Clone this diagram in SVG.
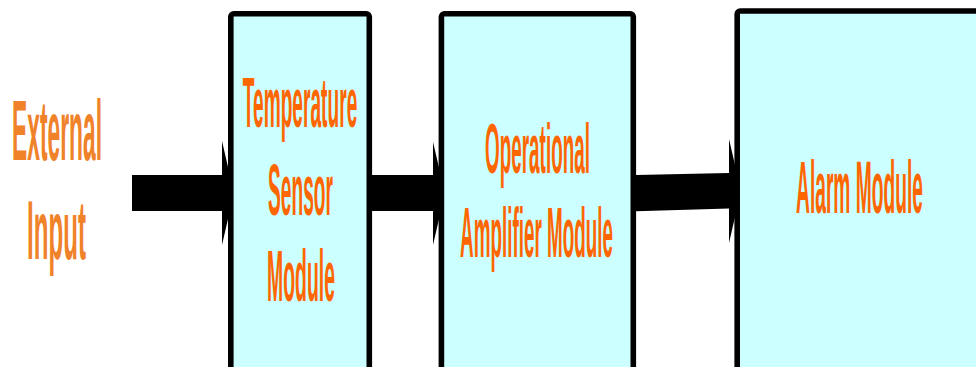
<svg xmlns="http://www.w3.org/2000/svg" width="976" height="367" viewBox="0 0 976 367">
<style>
.box{fill:#CCFFFF;stroke:#000;stroke-width:5.6;stroke-linejoin:round}
.lbl{font-family:"Liberation Sans",Arial,sans-serif;font-weight:bold;fill:#FF6600;text-anchor:middle}
.ext{font-family:"Liberation Sans",Arial,sans-serif;font-weight:bold;fill:#F0822A;text-anchor:middle}
.arr{fill:#000}
</style>
<rect width="976" height="367" fill="#fff"/>
<g id="external-input">
<text class="ext" transform="translate(57,160) scale(0.265,1)" font-size="86">External</text>
<text class="ext" transform="translate(56.5,259) scale(0.287,1)" font-size="84">Input</text>
</g>
<g id="connectors">
<polygon class="arr" points="132,175 222,175 222,141 234,193 222,245 222,211 132,211"/>
<polygon class="arr" points="372,175 433,175 433,142 445,193 433,245 433,211 372,211"/>
<polygon class="arr" points="636,175 729,173 729,139 741,191 729,243 729,208.5 636,211.3"/>
</g>
<g id="temperature-sensor-module">
<rect class="box" x="230.8" y="13.8" width="138.5" height="400" rx="3"/>
<text class="lbl" transform="translate(300,127) scale(0.2736,1)" font-size="70">Temperature</text>
<text class="lbl" transform="translate(300.5,215) scale(0.2626,1)" font-size="73">Sensor</text>
<text class="lbl" transform="translate(301,301) scale(0.266,1)" font-size="73">Module</text>
</g>
<g id="operational-amplifier-module">
<rect class="box" x="441.4" y="13.8" width="191.9" height="400" rx="3"/>
<text class="lbl" transform="translate(537.5,173) scale(0.27,1)" font-size="70">Operational</text>
<text class="lbl" transform="translate(536.5,257) scale(0.2694,1)" font-size="70">Amplifier Module</text>
</g>
<g id="alarm-module">
<rect class="box" x="737.2" y="11" width="300" height="400" rx="3"/>
<text class="lbl" transform="translate(859.5,212.5) scale(0.2596,1)" font-size="74">Alarm Module</text>
</g>
</svg>
